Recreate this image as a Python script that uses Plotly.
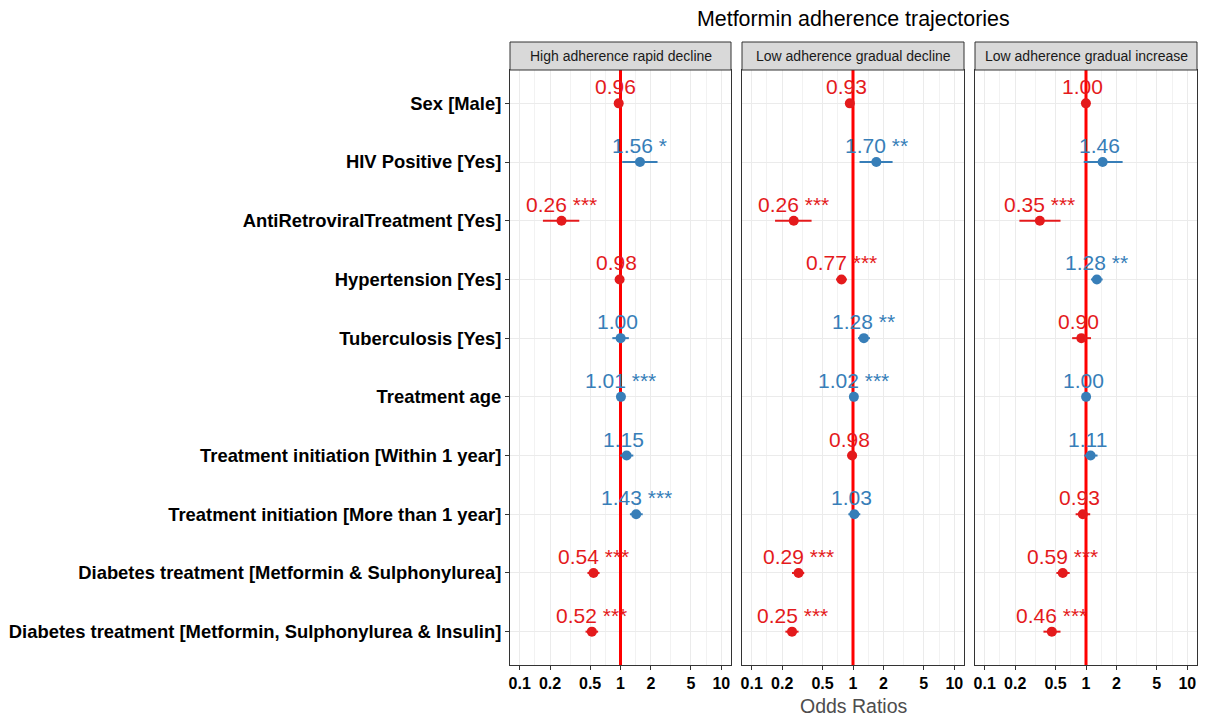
import numpy as np
import plotly.graph_objects as go

# ---- data -------------------------------------------------------------
categories = [
    "Sex [Male]",
    "HIV Positive [Yes]",
    "AntiRetroviralTreatment [Yes]",
    "Hypertension [Yes]",
    "Tuberculosis [Yes]",
    "Treatment age",
    "Treatment initiation [Within 1 year]",
    "Treatment initiation [More than 1 year]",
    "Diabetes treatment [Metformin & Sulphonylurea]",
    "Diabetes treatment [Metformin, Sulphonylurea & Insulin]",
]

trajectories = [
    "High adherence rapid decline",
    "Low adherence gradual decline",
    "Low adherence gradual increase",
]

# odds ratios, 95% CI bounds and significance stars per trajectory
or_rapid = [0.96, 1.56, 0.26, 0.98, 1.003, 1.01, 1.15, 1.43, 0.54, 0.52]
lo_rapid = [0.88, 1.04, 0.17, 0.92, 0.83, 1.00, 0.99, 1.24, 0.47, 0.45]
hi_rapid = [1.05, 2.33, 0.39, 1.05, 1.21, 1.02, 1.34, 1.66, 0.62, 0.60]
sig_rapid = ["", "*", "***", "", "", "***", "", "***", "***", "***"]

or_gdec = [0.93, 1.70, 0.26, 0.77, 1.28, 1.02, 0.98, 1.03, 0.29, 0.25]
lo_gdec = [0.85, 1.16, 0.17, 0.68, 1.12, 1.01, 0.88, 0.90, 0.25, 0.215]
hi_gdec = [1.02, 2.46, 0.39, 0.87, 1.47, 1.03, 1.09, 1.18, 0.33, 0.29]
sig_gdec = ["", "**", "***", "***", "**", "***", "", "", "***", "***"]

or_ginc = [0.998, 1.46, 0.35, 1.28, 0.90, 1.002, 1.11, 0.93, 0.59, 0.46]
lo_ginc = [0.93, 0.95, 0.22, 1.12, 0.73, 0.995, 0.96, 0.79, 0.51, 0.38]
hi_ginc = [1.07, 2.30, 0.56, 1.46, 1.12, 1.01, 1.30, 1.10, 0.69, 0.56]
sig_ginc = ["", "", "***", "**", "", "", "", "", "***", "***"]

x_ticks = [0.1, 0.2, 0.5, 1, 2, 5, 10]
x_ticklabels = ["0.1", "0.2", "0.5", "1", "2", "5", "10"]

panels = [
    (or_rapid, lo_rapid, hi_rapid, sig_rapid),
    (or_gdec, lo_gdec, hi_gdec, sig_gdec),
    (or_ginc, lo_ginc, hi_ginc, sig_ginc),
]

# ---- styling ----------------------------------------------------------
RED = "#E41A1C"
BLUE = "#377EB8"
FONT = "Liberation Sans, Arial, sans-serif"
W, H = 1207, 720

panel_px = [(510, 731), (742, 964), (975, 1197)]
panel_top, panel_bottom = 70, 665
strip_top = 42

y_dom = [(H - panel_bottom) / H, (H - panel_top) / H]
strip_dom = [(H - panel_top) / H, (H - strip_top) / H]
y_range = [len(categories) - 0.432, -0.568]

# minor grid between major breaks (log midpoints)
minor_vals = [float(np.sqrt(a * b)) for a, b in zip(x_ticks[:-1], x_ticks[1:])]

fig = go.Figure()
annotations = []
shapes = []

for i, (ors, los, his, sigs) in enumerate(panels):
    n = "" if i == 0 else str(i + 1)
    xa, ya = "x" + n, "y" + n
    ors = np.array(ors)
    los = np.array(los)
    his = np.array(his)
    for colour, mask in ((RED, ors < 1), (BLUE, ors >= 1)):
        idx = np.where(mask)[0]
        if len(idx) == 0:
            continue
        fig.add_trace(go.Scatter(
            x=ors[idx],
            y=[categories[k] for k in idx],
            mode="markers",
            marker=dict(color=colour, size=10),
            error_x=dict(type="data", symmetric=False,
                         array=(his - ors)[idx], arrayminus=(ors - los)[idx],
                         color=colour, thickness=2, width=0),
            xaxis=xa, yaxis=ya, showlegend=False, hoverinfo="skip",
        ))
    for k in range(len(categories)):
        colour = RED if ors[k] < 1 else BLUE
        annotations.append(dict(
            x=float(np.log10(ors[k])), y=categories[k], xref=xa, yref=ya,
            text=f"{ors[k]:.2f}\u00a0{sigs[k]}", showarrow=False,
            xanchor="center", yanchor="bottom", yshift=3,
            font=dict(family=FONT, size=21, color=colour),
        ))
    # reference line at OR = 1, spanning the whole panel
    shapes.append(dict(type="line", xref=xa, yref=ya,
                       x0=1, x1=1, y0=y_range[0], y1=y_range[1], layer="between",
                       line=dict(color="#FF0000", width=3)))
    # facet strip
    x0, x1 = panel_px[i]
    shapes.append(dict(type="rect", xref="paper", yref="paper",
                       x0=x0 / W, x1=x1 / W, y0=strip_dom[0], y1=strip_dom[1],
                       fillcolor="#D9D9D9", line=dict(color="#333333", width=1)))
    annotations.append(dict(
        x=(x0 + x1) / 2 / W, y=sum(strip_dom) / 2, xref="paper", yref="paper",
        text=trajectories[i], showarrow=False, xanchor="center", yanchor="middle",
        font=dict(family=FONT, size=14, color="#1A1A1A"),
    ))

    xaxis = dict(
        type="log", domain=[x0 / W, x1 / W], anchor=ya,
        range=[-1.096, 1.096],
        tickmode="array", tickvals=x_ticks, ticktext=x_ticklabels,
        tickfont=dict(family=FONT, size=16, color="black", weight="bold"),
        ticks="outside", ticklen=4, tickcolor="#333333",
        showgrid=True, gridcolor="#EBEBEB", gridwidth=1,
        minor=dict(tickmode="array", tickvals=minor_vals, showgrid=True,
                   gridcolor="#F2F2F2", gridwidth=1, ticks=""),
        showline=True, mirror=True, linecolor="#333333", linewidth=1,
        zeroline=False, fixedrange=True,
    )
    yaxis = dict(
        type="category", categoryorder="array", categoryarray=categories,
        domain=y_dom, anchor=xa, range=y_range,
        showgrid=True, gridcolor="#EBEBEB", gridwidth=1,
        showline=True, mirror=True, linecolor="#333333", linewidth=1,
        zeroline=False, fixedrange=True,
    )
    if i == 0:
        yaxis.update(ticks="outside", ticklen=4, tickcolor="#333333",
                     showticklabels=True,
                     tickfont=dict(family=FONT, size=18.4, color="black", weight="bold"))
    else:
        yaxis.update(ticks="", showticklabels=False)
    fig.update_layout({"xaxis" + n: xaxis, "yaxis" + n: yaxis})

centre = (panel_px[0][0] + panel_px[-1][1]) / 2 / W
annotations.append(dict(
    x=centre, y=1 - 19 / H, xref="paper", yref="paper",
    text="Metformin adherence trajectories", showarrow=False,
    xanchor="center", yanchor="middle",
    font=dict(family=FONT, size=21.4, color="black"),
))
annotations.append(dict(
    x=centre, y=1 - 706 / H, xref="paper", yref="paper",
    text="Odds Ratios", showarrow=False, xanchor="center", yanchor="middle",
    font=dict(family=FONT, size=19.5, color="#4D4D4D"),
))

fig.update_layout(
    width=W, height=H,
    margin=dict(l=0, r=0, t=0, b=0),
    paper_bgcolor="white", plot_bgcolor="white",
    annotations=annotations, shapes=shapes,
    showlegend=False,
)

fig.write_html("out.html")
